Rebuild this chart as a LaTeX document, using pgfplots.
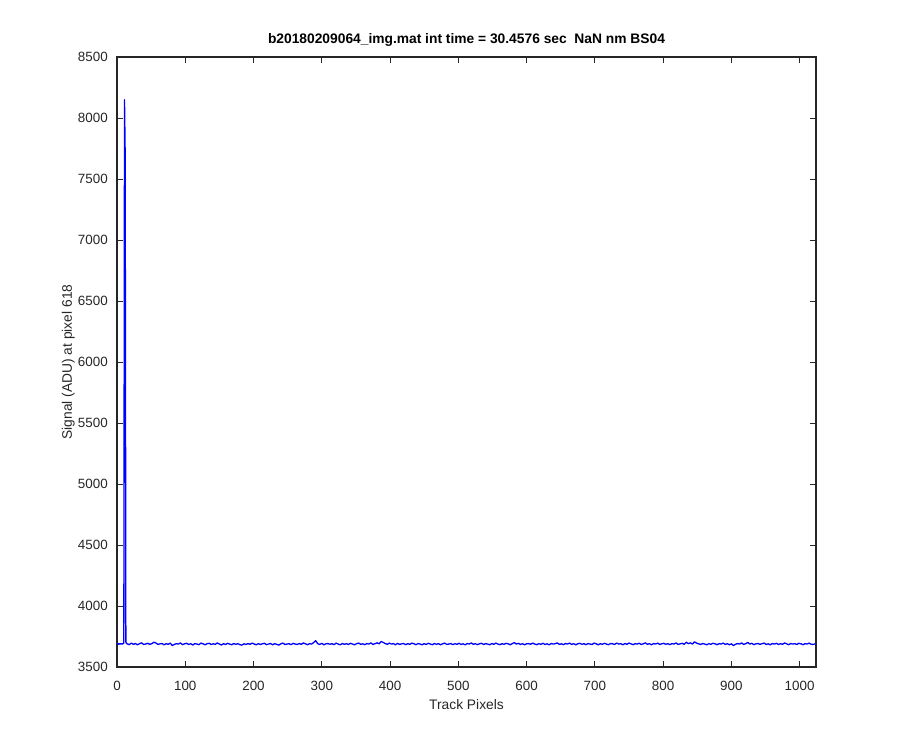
\documentclass[border=0pt]{standalone}
\usepackage{fontspec}
\setmainfont{Liberation Sans}
\usepackage{pgfplots}
\pgfplotsset{compat=1.18}
\definecolor{axgray}{RGB}{38,38,38}
\begin{document}
\begin{tikzpicture}
\begin{axis}[
  name=ax,
  width=699pt, height=610pt, scale only axis,
  xmin=0, xmax=1024, ymin=3500, ymax=8500,
  xtick={0,100,...,1000}, ytick={3500,4000,...,8500},
  /pgf/number format/assume math mode=true,
  /pgf/number format/1000 sep={},
  tick align=inside, major tick length=6pt,
  tick style={axgray, line width=0.8pt},
  axis line style={axgray, line width=1.1pt},
  every tick label/.append style={font=\fontsize{13.4}{16}\selectfont, text=axgray, inner sep=0pt},
  xticklabel style={anchor=base, yshift=-24pt},
  yticklabel style={anchor=east, xshift=-9pt},
  title={b20180209064\_img.mat int time = 30.4576 sec\ \ NaN nm BS04},
  title style={at={(axis description cs:0.5,1)}, anchor=south, inner sep=0pt, yshift=4pt, font=\fontsize{13.8}{16}\selectfont\bfseries},
  xlabel={Track Pixels},
  xlabel style={at={([yshift=-42.5pt]axis description cs:0.5,0)}, anchor=base, inner sep=0pt, font=\fontsize{13.8}{16}\selectfont, text=axgray},
  ylabel={Signal (ADU) at pixel 618},
  ylabel style={at={([xshift=-45pt]axis description cs:0,0.5)}, anchor=base, inner sep=0pt, font=\fontsize{13.8}{16}\selectfont, text=axgray},
]
\addplot[color={rgb,255:red,0;green,0;blue,255}, line width=1.3pt, line join=round] coordinates {
(0,3688)(1,3692)(2,3686)(3,3690)(4,3689)(5,3691)(6,3687)(7,3690)(8,3688)(9,3692)(10,3695)(11,8150)(12,7700)(13,3705)(14,3692)
(15,3690)(18,3683)(21,3696)(24,3686)(27,3692)(30,3682)(33,3691)(36,3698)(39,3685)(42,3688)
(45,3694)(48,3686)(51,3691)(54,3703)(57,3697)(60,3685)(63,3690)(66,3692)(69,3682)(72,3691)
(75,3686)(78,3696)(81,3676)(84,3685)(87,3691)(90,3688)(93,3697)(96,3683)(99,3690)(102,3694)
(105,3685)(108,3691)(111,3680)(114,3692)(117,3688)(120,3683)(123,3696)(126,3690)(129,3682)(132,3691)
(135,3694)(138,3685)(141,3690)(144,3686)(147,3697)(150,3688)(153,3680)(156,3691)(159,3685)(162,3694)
(165,3688)(168,3682)(171,3692)(174,3686)(177,3691)(180,3683)(183,3679)(186,3690)(189,3685)(192,3692)
(195,3686)(198,3696)(201,3688)(204,3682)(207,3691)(210,3685)(213,3690)(216,3694)(219,3683)(222,3688)
(225,3692)(228,3682)(231,3691)(234,3686)(237,3679)(240,3690)(243,3696)(246,3685)(249,3688)(252,3691)
(255,3683)(258,3694)(261,3688)(264,3685)(267,3692)(270,3686)(273,3697)(276,3690)(279,3683)(282,3691)
(285,3688)(288,3700)(291,3716)(294,3691)(297,3685)(300,3694)(303,3682)(306,3690)(309,3692)(312,3686)
(315,3691)(318,3683)(321,3696)(324,3688)(327,3682)(330,3692)(333,3686)(336,3691)(339,3685)(342,3694)
(345,3688)(348,3682)(351,3691)(354,3696)(357,3686)(360,3690)(363,3683)(366,3692)(369,3688)(372,3697)
(375,3685)(378,3691)(381,3698)(384,3690)(387,3709)(390,3701)(393,3692)(396,3686)(399,3696)(402,3688)
(405,3691)(408,3682)(411,3694)(414,3685)(417,3690)(420,3692)(423,3683)(426,3691)(429,3686)(432,3696)
(435,3690)(438,3683)(441,3692)(444,3688)(447,3682)(450,3691)(453,3685)(456,3694)(459,3688)(462,3683)
(465,3692)(468,3686)(471,3691)(474,3682)(477,3690)(480,3696)(483,3685)(486,3688)(489,3692)(492,3683)
(495,3691)(498,3686)(501,3694)(504,3685)(507,3690)(510,3682)(513,3692)(516,3688)(519,3697)(522,3686)
(525,3691)(528,3683)(531,3690)(534,3694)(537,3685)(540,3691)(543,3688)(546,3682)(549,3692)(552,3686)
(555,3696)(558,3688)(561,3683)(564,3691)(567,3686)(570,3694)(573,3690)(576,3682)(579,3691)(582,3700)
(585,3688)(588,3694)(591,3685)(594,3691)(597,3682)(600,3690)(603,3692)(606,3686)(609,3696)(612,3688)
(615,3683)(618,3691)(621,3686)(624,3694)(627,3685)(630,3690)(633,3682)(636,3692)(639,3688)(642,3691)
(645,3697)(648,3686)(651,3690)(654,3683)(657,3692)(660,3688)(663,3696)(666,3685)(669,3691)(672,3682)
(675,3690)(678,3694)(681,3686)(684,3691)(687,3683)(690,3692)(693,3688)(696,3685)(699,3696)(702,3690)
(705,3682)(708,3691)(711,3686)(714,3694)(717,3688)(720,3683)(723,3692)(726,3690)(729,3685)(732,3696)
(735,3688)(738,3691)(741,3682)(744,3692)(747,3686)(750,3696)(753,3690)(756,3683)(759,3691)(762,3688)
(765,3694)(768,3685)(771,3690)(774,3698)(777,3686)(780,3691)(783,3682)(786,3692)(789,3688)(792,3696)
(795,3685)(798,3690)(801,3694)(804,3686)(807,3691)(810,3683)(813,3692)(816,3688)(819,3697)(822,3685)
(825,3690)(828,3694)(831,3686)(834,3703)(837,3691)(840,3698)(843,3688)(846,3706)(849,3696)(852,3690)
(855,3685)(858,3692)(861,3688)(864,3682)(867,3691)(870,3686)(873,3694)(876,3690)(879,3683)(882,3691)
(885,3688)(888,3696)(891,3685)(894,3691)(897,3682)(900,3690)(903,3676)(906,3686)(909,3692)(912,3688)
(915,3697)(918,3685)(921,3691)(924,3701)(927,3688)(930,3694)(933,3683)(936,3690)(939,3692)(942,3686)
(945,3691)(948,3696)(951,3685)(954,3690)(957,3682)(960,3692)(963,3688)(966,3694)(969,3685)(972,3691)
(975,3686)(978,3697)(981,3690)(984,3683)(987,3692)(990,3688)(993,3691)(996,3685)(999,3694)(1002,3690)
(1005,3683)(1008,3691)(1011,3688)(1014,3696)(1017,3686)(1020,3685)(1023,3690)
};
\end{axis}
\path ([shift={(-117pt,-83pt)}]ax.south west) rectangle ([shift={(84pt,57pt)}]ax.north east);
\end{tikzpicture}
\end{document}
